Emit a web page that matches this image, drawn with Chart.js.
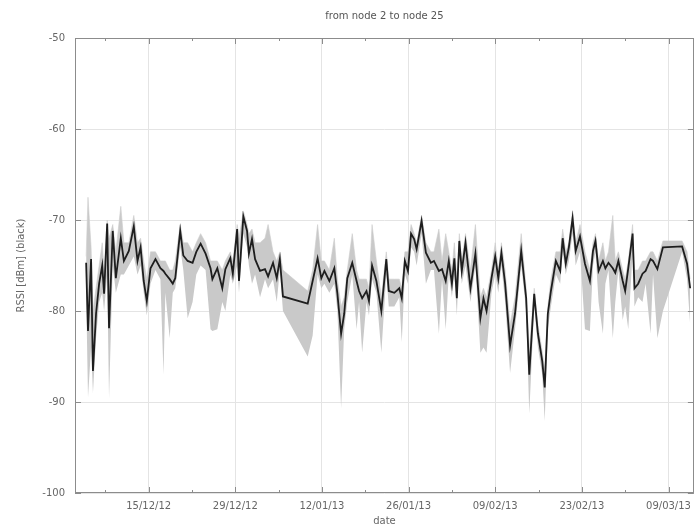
<!DOCTYPE html>
<html>
<head>
<meta charset="utf-8">
<script src="https://cdn.jsdelivr.net/npm/chart.js@4.4.0/dist/chart.umd.min.js"></script>
<style>
  html, body { margin: 0; padding: 0; background: #fff; }
  #wrap { width: 698px; height: 529px; }
</style>
</head>
<body>
<div id="wrap"><canvas id="rssiChart" width="698" height="529"></canvas></div>
<script>
// x values are days counted from 01/12/2012
const days = [
  3.9, 4.2, 4.7, 5.0, 5.5, 6.0, 6.5, 6.8, 7.3, 7.6,
  8.2, 8.7, 9.5, 10.0, 10.8, 11.6, 12.2, 12.7, 13.2, 13.7,
  14.3, 15.1, 15.9, 16.4, 16.7, 17.4, 17.9, 18.3, 19.1, 19.6,
  20.3, 21.1, 21.7, 22.4, 23.2, 24.0, 24.3, 25.1, 25.9, 26.4,
  27.2, 27.6, 28.3, 28.6, 29.3, 29.9, 30.2, 30.7, 31.2, 32.0,
  32.8, 33.3, 34.1, 34.7, 35.2, 35.7, 39.7, 40.5, 41.3, 41.9,
  42.4, 43.2, 44.0, 44.5, 45.1, 45.6, 46.1, 46.9, 47.6, 48.0,
  48.5, 49.2, 49.6, 50.1, 50.8, 51.6, 52.4, 52.8, 53.7, 54.5,
  54.9, 55.4, 55.9, 56.4, 56.9, 57.3, 58.1, 58.8, 59.6, 60.1,
  60.9, 61.4, 62.0, 62.5, 63.0, 63.4, 63.8, 64.2, 64.6, 65.2,
  66.0, 66.8, 67.6, 68.1, 68.6, 69.4, 70.0, 70.5, 71.0, 71.6,
  72.4, 73.2, 74.2, 75.0, 75.5, 76.3, 76.9, 77.6, 78.0, 78.5,
  79.0, 79.8, 80.5, 80.9, 81.4, 81.9, 82.5, 83.0, 83.7, 84.5,
  85.3, 85.8, 86.2, 86.7, 87.4, 87.8, 88.3, 89.0, 89.4, 89.9,
  90.6, 91.0, 91.5, 92.2, 92.5, 93.1, 93.8, 94.3, 95.1, 95.5,
  96.2, 97.1, 100.2, 101.0, 101.5
];

// black line
const rssiMean = [
  -74.7, -82.2, -74.3, -86.6, -80.3, -77.0, -75.0, -78.1, -70.4, -81.9,
  -71.2, -76.4, -72.0, -74.5, -73.4, -70.7, -74.5, -73.0, -76.7, -78.9,
  -75.3, -74.3, -75.3, -75.6, -75.9, -76.5, -77.0, -76.4, -71.2, -73.9,
  -74.5, -74.7, -73.5, -72.6, -73.7, -75.3, -76.5, -75.3, -77.5, -75.4,
  -74.2, -75.9, -71.0, -76.7, -69.6, -71.2, -73.7, -72.1, -74.3, -75.6,
  -75.4, -76.2, -74.7, -76.4, -74.3, -78.4, -79.2, -76.7, -74.2, -76.4,
  -75.6, -76.7, -75.3, -78.1, -82.5, -80.3, -76.4, -74.7, -76.7, -77.8,
  -78.6, -77.8, -78.9, -75.0, -76.7, -80.0, -74.3, -77.8, -78.0, -77.5,
  -78.6, -74.5, -75.6, -71.5, -72.1, -73.2, -70.1, -73.6, -74.7, -74.5,
  -75.6, -75.4, -76.7, -74.5, -77.0, -74.2, -78.6, -72.3, -75.6, -72.5,
  -77.5, -73.7, -80.8, -78.6, -80.0, -76.4, -74.0, -76.4, -73.6, -77.0,
  -83.8, -80.3, -73.4, -78.6, -87.0, -78.1, -82.5, -85.5, -88.4, -80.3,
  -77.8, -74.5, -75.6, -72.0, -74.8, -73.0, -69.8, -73.4, -71.8, -74.8,
  -76.7, -73.4, -72.3, -75.6, -74.5, -75.3, -74.7, -75.3, -75.8, -74.5,
  -76.7, -77.8, -75.3, -71.5, -77.5, -77.0, -75.9, -75.6, -74.3, -74.5,
  -75.4, -73.0, -72.9, -74.8, -77.5
];

// lower edge of the grey band
const rssiMin = [
  -78, -89.5, -84, -89, -83, -79, -78, -80, -76, -89.6,
  -75, -78, -76, -76, -75, -74, -76, -75, -78, -80.5,
  -77, -75.5, -76.5, -87, -78, -83, -78, -77.5, -73, -75.5,
  -80.8, -79, -76, -75, -75.5, -82, -82.2, -82, -79, -80,
  -76, -77, -75, -78, -71.5, -73, -75, -77, -76, -78.5,
  -76.5, -77.5, -76.5, -79, -75.5, -80, -85, -82.7, -76, -77.5,
  -77, -78, -77, -80, -90.7, -82, -79, -76, -82, -79,
  -84.6, -79, -80.5, -76.5, -78, -84.6, -76, -79.5, -79.5, -78.5,
  -83.4, -76, -77, -73, -73.5, -75, -71.5, -77, -75.5, -75.5,
  -82.5, -76.5, -82, -76, -78.5, -76, -80.5, -74, -77, -75,
  -79, -75, -84.6, -84, -84.6, -78, -76, -78, -75, -79,
  -86.8, -82, -75, -80, -91.3, -79.5, -84, -87, -92.1, -82,
  -79.5, -76, -77, -73.5, -76, -74.5, -71.5, -75, -73.5, -82,
  -82.2, -75, -73.5, -79, -82.5, -77, -75.5, -83, -79, -75.5,
  -81, -79.5, -82, -73.5, -79.5, -78.5, -79, -77, -82.5, -76,
  -83, -80, -73.5, -76.5, -81.5
];

// upper edge of the grey band
const rssiMax = [
  -74, -67.5, -73, -80, -77.5, -75, -72.5, -75.5, -70, -72,
  -70.5, -73.5, -68.5, -72.5, -72.5, -69.5, -72.5, -72, -74.5, -76.5,
  -73.5, -73.5, -74.5, -74.5, -74.5, -75.5, -75.5, -74.5, -70.5, -72.5,
  -72.5, -73.5, -72.5, -71.5, -72.5, -74.5, -74.5, -74.5, -75.5, -74.5,
  -73.5, -74.5, -70.5, -72, -69, -70.5, -71.5, -71, -72.5, -72.5,
  -72, -70.5, -73.5, -74.5, -73.5, -75.5, -77.8, -75.5, -70.5, -74.5,
  -74.5, -75.5, -72, -76.5, -79.5, -78.5, -75.5, -71.5, -75.5, -76.5,
  -76.5, -76.5, -77.5, -70.5, -74.5, -78.5, -73.5, -76.5, -76.5, -76.5,
  -77.5, -73.5, -73.5, -70.5, -71.5, -72.5, -69.5, -72.5, -73.5, -73.5,
  -71, -74.5, -71.5, -73.5, -75.5, -72.5, -76.5, -71.5, -74.5, -71.5,
  -75.5, -70.5, -78.5, -77.5, -78.5, -75.5, -72.5, -75.5, -72.5, -75.5,
  -81.5, -78.5, -71.5, -77.5, -84.5, -77.5, -81.5, -84.5, -86.5, -79.5,
  -76.5, -73.5, -73.5, -71, -73.5, -72.5, -69, -72.5, -70.5, -73.5,
  -75.5, -72.5, -71.5, -74.5, -72.5, -74.5, -73.5, -69.5, -74.5, -73.5,
  -75.5, -76.5, -74.5, -70.5, -75.5, -75.5, -74.5, -74.5, -73.5, -73.5,
  -74.5, -72.3, -72.3, -73.5, -76.5
];

// x ticks every week, labelled every two weeks
const xTickDays = [7, 14, 21, 28, 35, 42, 49, 56, 63, 70, 77, 84, 91, 98];
const xLabelDays = [14, 28, 42, 56, 70, 84, 98];
const yTickValues = [-100, -90, -80, -70, -60, -50];
const chartTitle = 'from node 2 to node 25';

function dayLabel(d) {
  const dt = new Date(2012, 11, 1 + d);
  const dd = String(dt.getDate()).padStart(2, '0');
  const mm = String(dt.getMonth() + 1).padStart(2, '0');
  const yy = String(dt.getFullYear()).slice(2);
  return dd + '/' + mm + '/' + yy;
}

function toPoints(vals) {
  return days.map((d, i) => ({ x: d, y: vals[i] }));
}

const textFont = { family: 'DejaVu Sans', size: 10 };

// gnuplot style frame with inward ticks on all four sides, title over the plot area
const gnuplotFrame = {
  id: 'gnuplotFrame',
  afterDatasetsDraw(chart) {
    const { ctx, chartArea: a, scales } = chart;
    const x = scales.x, y = scales.y;
    ctx.save();
    ctx.strokeStyle = '#8c8c8c';
    ctx.lineWidth = 1;
    ctx.beginPath();
    xTickDays.forEach(d => {
      const px = Math.round(x.getPixelForValue(d)) + 0.5;
      const len = xLabelDays.includes(d) ? 6 : 3;
      ctx.moveTo(px, a.bottom);
      ctx.lineTo(px, a.bottom - len);
      ctx.moveTo(px, a.top);
      ctx.lineTo(px, a.top + len);
    });
    yTickValues.forEach(v => {
      const py = Math.round(y.getPixelForValue(v)) + 0.5;
      ctx.moveTo(a.left, py);
      ctx.lineTo(a.left + 6, py);
      ctx.moveTo(a.right, py);
      ctx.lineTo(a.right - 6, py);
    });
    ctx.stroke();
    ctx.strokeRect(Math.round(a.left) + 0.5, Math.round(a.top) + 0.5,
      Math.round(a.width) - 1, Math.round(a.height) - 1);

    ctx.fillStyle = '#555';
    ctx.font = textFont.size + 'px "' + textFont.family + '"';
    ctx.textAlign = 'center';
    ctx.textBaseline = 'middle';
    ctx.fillText(chartTitle, (a.left + a.right) / 2, 16);
    ctx.restore();
  }
};

new Chart(document.getElementById('rssiChart'), {
  type: 'line',
  data: {
    datasets: [
      {
        label: 'mean',
        data: toPoints(rssiMean),
        borderColor: '#1e1e1e',
        borderWidth: 1.8,
        pointRadius: 0,
        tension: 0,
        fill: false
      },
      {
        label: 'min',
        data: toPoints(rssiMin),
        borderWidth: 0,
        borderColor: 'rgba(0,0,0,0)',
        pointRadius: 0,
        tension: 0,
        fill: false
      },
      {
        label: 'max',
        data: toPoints(rssiMax),
        borderWidth: 0.6,
        borderColor: '#cdcdcd',
        backgroundColor: '#c9c9c9',
        pointRadius: 0,
        tension: 0,
        fill: '-1'
      }
    ]
  },
  options: {
    responsive: false,
    animation: false,
    events: [],
    layout: { padding: { left: 0, right: 1, top: 38, bottom: 0 } },
    plugins: {
      legend: { display: false },
      tooltip: { enabled: false },
      title: { display: false }
    },
    scales: {
      x: {
        type: 'linear',
        min: 2.1,
        max: 102.1,
        afterBuildTicks: scale => {
          scale.ticks = xTickDays.map(v => ({ value: v }));
        },
        afterFit: scale => { scale.height = 36; },
        grid: {
          drawTicks: false,
          color: c => (c.tick && xLabelDays.includes(c.tick.value)) ? '#e4e4e4' : 'rgba(0,0,0,0)'
        },
        border: { display: false },
        ticks: {
          autoSkip: false,
          maxRotation: 0,
          padding: 7,
          color: '#666',
          font: textFont,
          callback: v => xLabelDays.includes(v) ? dayLabel(v) : ''
        },
        title: {
          display: true,
          text: 'date',
          color: '#666',
          font: textFont,
          padding: { top: 0, bottom: 2 }
        }
      },
      y: {
        min: -100,
        max: -50,
        afterBuildTicks: scale => {
          scale.ticks = yTickValues.map(v => ({ value: v }));
        },
        afterFit: scale => { scale.width = 75; },
        grid: { drawTicks: false, color: '#e4e4e4' },
        border: { display: false },
        ticks: {
          padding: 10,
          color: '#666',
          font: textFont,
          callback: v => String(v)
        },
        title: {
          display: true,
          text: 'RSSI [dBm] (black)',
          color: '#666',
          font: textFont,
          padding: { top: 15, bottom: 0 }
        }
      }
    }
  },
  plugins: [gnuplotFrame]
});
</script>
</body>
</html>
